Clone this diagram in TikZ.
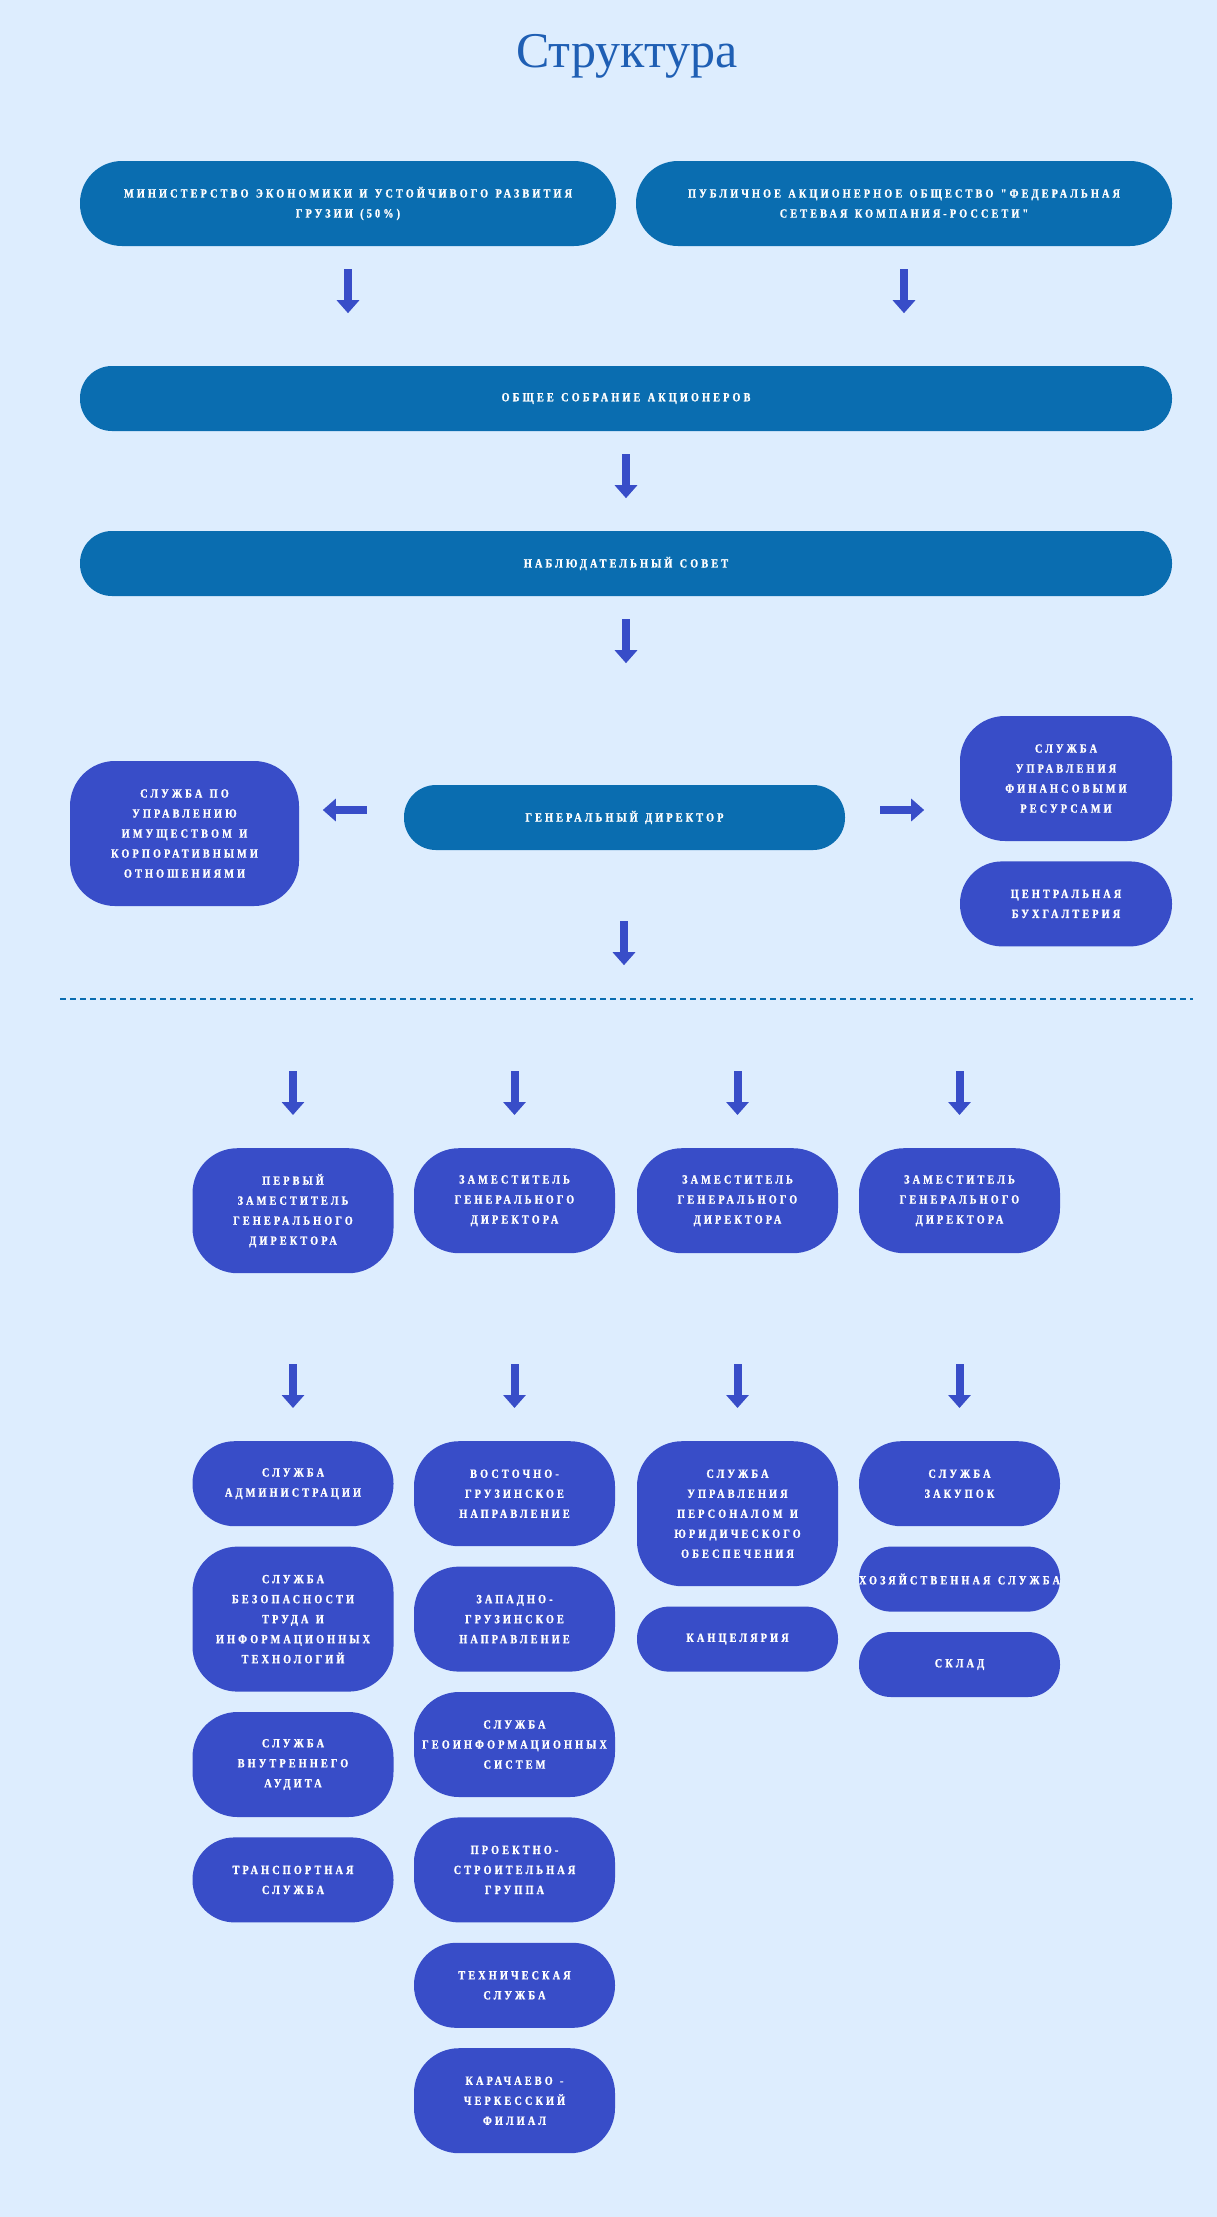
\documentclass[tikz,border=0pt]{standalone}
\usepackage{fontspec}
\usetikzlibrary{arrows.meta,positioning}
\newfontfamily\titrefont{Liberation Serif}
\newfontfamily\boitefont[LetterSpace=25,FakeStretch=0.82,WordSpace=1.3,
  BoldFeatures={FakeBold=1.2}]{Liberation Serif}
\definecolor{fondCiel}{HTML}{DDEDFE}
\definecolor{bleuFonce}{HTML}{0A6DB0}
\definecolor{bleuRoi}{HTML}{384DC8}
\definecolor{bleuTitre}{HTML}{1F5FB4}
\tikzset{
  boite/.style={rectangle, text=white, align=center, inner sep=0pt,
    font=\boitefont\bfseries\fontsize{12.5}{20}\selectfont},
  bandeau/.style={boite, fill=bleuFonce},
  pastille/.style={boite, fill=bleuRoi, minimum width=201pt},
  lignes/.style={minimum height={(45+20*#1)*1pt},
    rounded corners={min(45,(45+20*#1)/2-0.5)*1pt}},
  fleche/.style={draw=bleuRoi, line width=8pt, -{Triangle[width=22pt,length=13pt]}},
  pointille/.style={draw=bleuFonce, line width=2pt, dash pattern=on 6pt off 4pt}
}
\begin{document}
\begin{tikzpicture}[x=1pt,y=-1pt]
\pgfmathsetmacro{\largeur}{1217}
\pgfmathsetmacro{\hauteur}{2217}
\pgfmathsetmacro{\colun}{293}
\pgfmathsetmacro{\coldeux}{514.5}
\pgfmathsetmacro{\coltrois}{737.5}
\pgfmathsetmacro{\colquatre}{959.5}
\pgfmathsetmacro{\hautadj}{1148}
\pgfmathsetmacro{\hautserv}{1441}
  \fill[fondCiel] (0,0) rectangle (\largeur,\hauteur);
  \useasboundingbox (0,0) rectangle (\largeur,\hauteur);
  \node[anchor=base, text=bleuTitre, font=\titrefont\fontsize{50}{50}\selectfont] (titre) at (627,67) {Структура};
% actionnaires et direction
  \node[bandeau, lignes=2, minimum width=536pt] (minist) at (348,203.5) {МИНИСТЕРСТВО ЭКОНОМИКИ И УСТОЙЧИВОГО РАЗВИТИЯ\\ГРУЗИИ (50\%)};
  \node[bandeau, lignes=2, minimum width=536pt] (rosseti) at (904,203.5) {ПУБЛИЧНОЕ АКЦИОНЕРНОЕ ОБЩЕСТВО "ФЕДЕРАЛЬНАЯ\\СЕТЕВАЯ КОМПАНИЯ-РОССЕТИ"};
  \node[bandeau, lignes=1, minimum width=1092pt] (assemblee) at (626,398.5) {ОБЩЕЕ СОБРАНИЕ АКЦИОНЕРОВ};
  \node[bandeau, lignes=1, minimum width=1092pt] (conseil) at (626,563.5) {НАБЛЮДАТЕЛЬНЫЙ СОВЕТ};
  \node[bandeau, lignes=1, minimum width=441pt] (gendir) at (624.5,817.5) {ГЕНЕРАЛЬНЫЙ ДИРЕКТОР};
  \node[pastille, lignes=5, minimum width=229pt] (patrimoine) at (184.5,833.5) {СЛУЖБА ПО\\УПРАВЛЕНИЮ\\ИМУЩЕСТВОМ И\\КОРПОРАТИВНЫМИ\\ОТНОШЕНИЯМИ};
  \node[pastille, lignes=4, minimum width=212pt] (finances) at (1066,778.5) {СЛУЖБА\\УПРАВЛЕНИЯ\\ФИНАНСОВЫМИ\\РЕСУРСАМИ};
  \node[pastille, lignes=2, minimum width=212pt, below=20pt of finances] (compta) {ЦЕНТРАЛЬНАЯ\\БУХГАЛТЕРИЯ};
  \path (minist.south) ++(0,23) coordinate (fmh) ++(0,44) coordinate (fmb);
  \path (rosseti.south) ++(0,23) coordinate (frh) ++(0,44) coordinate (frb);
  \path (assemblee.south) ++(0,23) coordinate (fah) ++(0,44) coordinate (fab);
  \path (conseil.south) ++(0,23) coordinate (fch) ++(0,44) coordinate (fcb);
  \path (gendir.west) ++(-37,-7.5) coordinate (fgd) ++(-44,0) coordinate (fga);
  \path (gendir.east) ++(35,-7.5) coordinate (fdd) ++(44,0) coordinate (fda);
  \path (gendir.south) ++(-0.5,71) coordinate (fbh) ++(0,44) coordinate (fbb);
  \draw[fleche] (fmh) -- (fmb);
  \draw[fleche] (frh) -- (frb);
  \draw[fleche] (fah) -- (fab);
  \draw[fleche] (fch) -- (fcb);
  \draw[fleche] (fgd) -- (fga);
  \draw[fleche] (fdd) -- (fda);
  \draw[fleche] (fbh) -- (fbb);
  \path (60,999) coordinate (sepg) (1193,999) coordinate (sepd);
  \draw[pointille] (sepg) -- (sepd);
% adjoints
  \node[pastille, lignes=4, anchor=north] (adjun) at (\colun,\hautadj) {ПЕРВЫЙ\\ЗАМЕСТИТЕЛЬ\\ГЕНЕРАЛЬНОГО\\ДИРЕКТОРА};
  \node[pastille, lignes=3, anchor=north] (adjdeux) at (\coldeux,\hautadj) {ЗАМЕСТИТЕЛЬ\\ГЕНЕРАЛЬНОГО\\ДИРЕКТОРА};
  \node[pastille, lignes=3, anchor=north] (adjtrois) at (\coltrois,\hautadj) {ЗАМЕСТИТЕЛЬ\\ГЕНЕРАЛЬНОГО\\ДИРЕКТОРА};
  \node[pastille, lignes=3, anchor=north] (adjquatre) at (\colquatre,\hautadj) {ЗАМЕСТИТЕЛЬ\\ГЕНЕРАЛЬНОГО\\ДИРЕКТОРА};
% services
  \node[pastille, lignes=2, anchor=north] (admin) at (\colun,\hautserv) {СЛУЖБА\\АДМИНИСТРАЦИИ};
  \node[pastille, lignes=5, below=20pt of admin] (securite) {СЛУЖБА\\БЕЗОПАСНОСТИ\\ТРУДА И\\ИНФОРМАЦИОННЫХ\\ТЕХНОЛОГИЙ};
  \node[pastille, lignes=3, below=20pt of securite] (audit) {СЛУЖБА\\ВНУТРЕННЕГО\\АУДИТА};
  \node[pastille, lignes=2, below=20pt of audit] (transport) {ТРАНСПОРТНАЯ\\СЛУЖБА};
  \node[pastille, lignes=3, anchor=north] (est) at (\coldeux,\hautserv) {ВОСТОЧНО-\\ГРУЗИНСКОЕ\\НАПРАВЛЕНИЕ};
  \node[pastille, lignes=3, below=20pt of est] (ouest) {ЗАПАДНО-\\ГРУЗИНСКОЕ\\НАПРАВЛЕНИЕ};
  \node[pastille, lignes=3, below=20pt of ouest] (geoinfo) {СЛУЖБА\\ГЕОИНФОРМАЦИОННЫХ\\СИСТЕМ};
  \node[pastille, lignes=3, below=20pt of geoinfo] (projet) {ПРОЕКТНО-\\СТРОИТЕЛЬНАЯ\\ГРУППА};
  \node[pastille, lignes=2, below=20pt of projet] (technique) {ТЕХНИЧЕСКАЯ\\СЛУЖБА};
  \node[pastille, lignes=3, below=20pt of technique] (filiale) {КАРАЧАЕВО -\\ЧЕРКЕССКИЙ\\ФИЛИАЛ};
  \node[pastille, lignes=5, anchor=north] (personnel) at (\coltrois,\hautserv) {СЛУЖБА\\УПРАВЛЕНИЯ\\ПЕРСОНАЛОМ И\\ЮРИДИЧЕСКОГО\\ОБЕСПЕЧЕНИЯ};
  \node[pastille, lignes=1, below=20pt of personnel] (chancel) {КАНЦЕЛЯРИЯ};
  \node[pastille, lignes=2, anchor=north] (achats) at (\colquatre,\hautserv) {СЛУЖБА\\ЗАКУПОК};
  \node[pastille, lignes=1, below=20pt of achats] (econome) {ХОЗЯЙСТВЕННАЯ СЛУЖБА};
  \node[pastille, lignes=1, below=20pt of econome] (entrepot) {СКЛАД};
  \foreach \n in {adjun,adjdeux,adjtrois,adjquatre,admin,est,personnel,achats} {
    \path (\n.north) ++(0,-77) coordinate (h\n) ++(0,44) coordinate (b\n);
    \draw[fleche] (h\n) -- (b\n);
  }
\end{tikzpicture}
\end{document}
